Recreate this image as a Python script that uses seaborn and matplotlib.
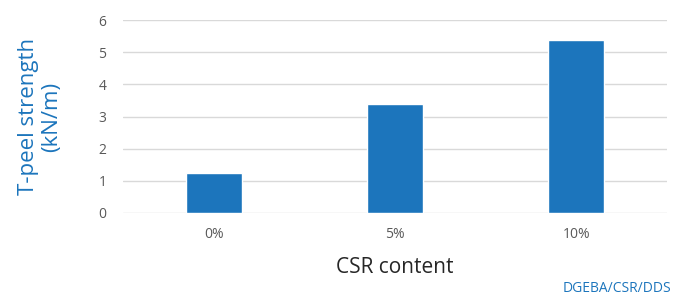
import matplotlib
matplotlib.use("Agg")
import matplotlib.pyplot as plt
import seaborn as sns
import pandas as pd

categories = ["0%", "5%", "10%"]
values = [1.23, 3.39, 5.38]
y_ticks = [0, 1, 2, 3, 4, 5, 6]

sns.set_theme(style="white")
plt.rcParams['font.family'] = ['Open Sans', 'DejaVu Sans']

df = pd.DataFrame({"cat": categories, "val": values})

fig = plt.figure(figsize=(6.81, 3.0), dpi=100)
ax = fig.add_axes([0.1806, 0.29, 0.7988, 0.6433])
sns.barplot(data=df, x="cat", y="val", color="#1C75BC", saturation=1, width=0.31, ax=ax)
ax.set_ylim(0, 6)
ax.set_yticks(y_ticks)
ax.yaxis.grid(True, color="#D9D9D9", linewidth=1)
ax.set_axisbelow(True)
for s in ax.spines.values():
    s.set_visible(False)
ax.tick_params(axis="both", length=0, labelsize=10, colors="#595959")
ax.tick_params(axis="y", pad=12)
ax.tick_params(axis="x", pad=10)
ax.set_xlabel("CSR content", fontsize=15, color="#262626", labelpad=11)
ax.set_ylabel("T-peel strength\n(kN/m)", fontsize=16, color="#1C75BC", labelpad=26, linespacing=1.15)
fig.text(0.985, 0.015, "DGEBA/CSR/DDS", ha="right", va="bottom", fontsize=10, color="#1C75BC")
fig.savefig("out.png", dpi=100)
